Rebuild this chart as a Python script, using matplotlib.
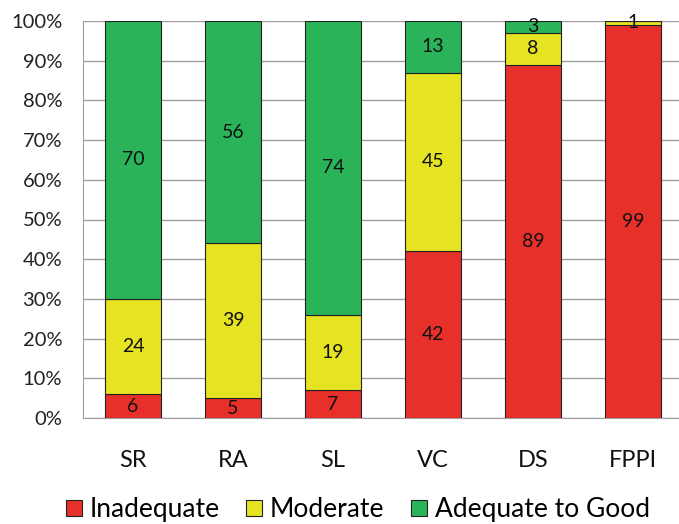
import numpy as np
import matplotlib.pyplot as plt
from matplotlib.patches import Patch

plt.rcParams['font.family'] = ['Lato', 'DejaVu Sans']

# survey categories and percentage shares
categories = ['SR', 'RA', 'SL', 'VC', 'DS', 'FPPI']
inadequate = [6, 5, 7, 42, 89, 99]
moderate = [24, 39, 19, 45, 8, 1]
adequate = [70, 56, 74, 13, 3, 0]

series = [('Inadequate', inadequate, '#e8302a'),
          ('Moderate', moderate, '#e6e322'),
          ('Adequate to Good', adequate, '#2bb35a')]

fig = plt.figure(figsize=(6.79, 5.24), dpi=100)
ax = fig.add_axes([83 / 679, 1 - 418 / 524, 600 / 679, 397 / 524])

x = np.arange(len(categories))
bottom = np.zeros(len(categories))
for name, vals, col in series:
    vals = np.array(vals, dtype=float)
    ax.bar(x, vals, 0.56, bottom=bottom, color=col, edgecolor='#222222',
           linewidth=0.8, label=name, zorder=3)
    for xi, b, v in zip(x, bottom, vals):
        if v > 0:
            ax.text(xi, b + v / 2, f'{int(v)}', ha='center', va='center',
                    fontsize=14, color='#111111', zorder=4)
    bottom += vals

ax.set_xlim(-0.5, 5.5)
ax.set_ylim(0, 100)
ax.set_yticks(np.arange(0, 101, 10))
ax.set_yticklabels([f'{t}%' for t in range(0, 101, 10)], fontsize=14.5, color='#222222')
ax.set_xticks(x)
ax.set_xticklabels(categories, fontsize=17, color='#111111')
ax.tick_params(axis='x', length=0, pad=23)
ax.tick_params(axis='y', length=0, pad=15)
ax.yaxis.grid(True, color='#a0a0a0', linewidth=1, zorder=0)
for s in ['top', 'right']:
    ax.spines[s].set_visible(False)
for s in ['left', 'bottom']:
    ax.spines[s].set_color('#a0a0a0')

handles = [Patch(facecolor=c, edgecolor='#222222', linewidth=0.8, label=n)
           for n, _, c in series]
fig.legend(handles=handles, loc='lower center', bbox_to_anchor=(0.527, -0.042),
           ncol=3, frameon=False, fontsize=19, handlelength=0.6, handleheight=0.6,
           handletextpad=0.3, columnspacing=1.0)

fig.savefig('out.png', dpi=100)
